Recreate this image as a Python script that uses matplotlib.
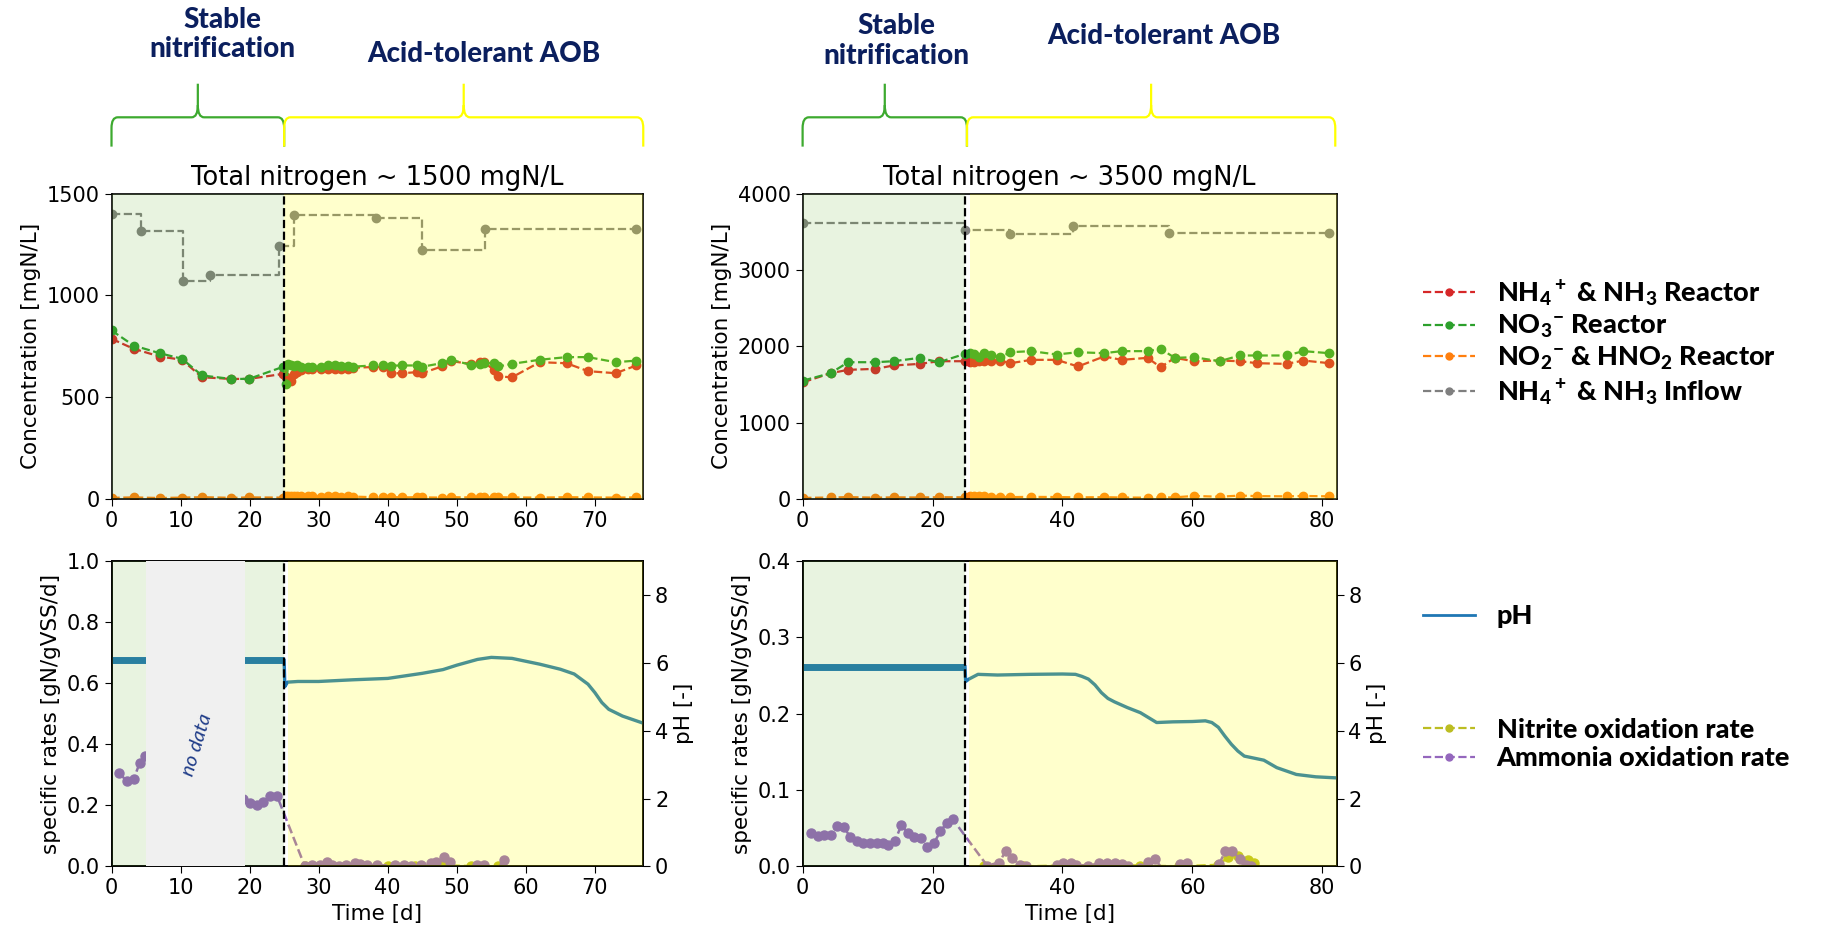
import numpy as np
import matplotlib
matplotlib.use("Agg")
import matplotlib.pyplot as plt
from matplotlib.path import Path
from matplotlib.patches import PathPatch
from matplotlib.lines import Line2D
from matplotlib.transforms import blended_transform_factory

plt.rcParams['font.family'] = ['DejaVu Sans']
plt.rcParams['mathtext.fontset'] = 'custom'
plt.rcParams['mathtext.rm'] = 'Lato:black'
plt.rcParams['mathtext.default'] = 'rm'

# ---------------- data: 1500 mgN/L reactor ----------------
tL = [0, 3.2, 7.0, 10.2, 13.1, 17.3, 19.9, 24.9, 25.3, 25.6, 26.0, 26.4, 26.9, 27.5, 28.5, 29.1,
      30.4, 31.4, 32.3, 33.3, 34.3, 34.9, 37.8, 39.3, 40.4, 42.1, 44.2, 45.0, 47.8, 49.2, 52.0,
      53.3, 53.9, 55.4, 56.0, 58.0, 62.0, 65.9, 69.0, 73.0, 76.0]
nh4L = [787, 738, 700, 684, 598, 590, 590, 615, 600, 590, 582, 615, 625, 635, 639, 640,
        639, 640, 638, 640, 640, 645, 648, 650, 618, 618, 623, 618, 651, 677, 664,
        672, 672, 634, 602, 598, 672, 667, 628, 618, 656]
no3L = [828, 754, 716, 689, 607, 590, 590, 650, 566, 664, 660, 655, 660, 650, 648, 648,
        650, 656, 656, 655, 652, 650, 656, 659, 655, 656, 656, 650, 667, 684, 659,
        664, 667, 667, 651, 664, 684, 697, 697, 672, 680]
no2L = [6, 8, 5, 7, 9, 6, 8, 7, 14, 15, 13, 16, 14, 15, 13, 14,
        12, 14, 13, 12, 13, 12, 9, 8, 10, 8, 9, 8, 7, 9, 8,
        10, 9, 8, 9, 8, 7, 9, 8, 7, 8]
inflow_tL = [0, 4.3, 10.4, 14.3, 24.2, 26.4, 38.3, 44.9, 54.1, 76.0]
inflowL = [1400, 1316, 1069, 1098, 1241, 1393, 1382, 1225, 1326, 1326]

ph_tL = [0, 25.0, 25.1, 25.5, 27, 30, 35, 40, 45, 48, 50, 53, 55, 58, 62, 65, 67, 69, 70, 71,
         72, 74, 76, 77]
phL = [6.07, 6.07, 5.3, 5.43, 5.45, 5.45, 5.5, 5.54, 5.69, 5.8, 5.93, 6.1, 6.16, 6.13, 5.96,
       5.81, 5.67, 5.37, 5.12, 4.83, 4.63, 4.43, 4.29, 4.22]
aor_tL = [1.1, 2.3, 3.2, 4.1, 4.8, 6.0, 19.0, 20.0, 21.1, 22.0, 23.0, 24.0, 28.0, 29.1, 30.2,
          31.2, 32.0, 33.0, 34.0, 35.2, 36.0, 37.0, 38.5, 41.0, 42.3, 43.3, 44.8, 46.2, 47.0,
          48.1, 49.0, 50.5, 52.9, 53.9, 55.5, 56.9]
aorL = [0.305, 0.278, 0.285, 0.34, 0.36, 0.38, 0.22, 0.209, 0.200, 0.212, 0.229, 0.229, 0.0,
        0.005, 0.006, 0.013, 0.005, 0.0, 0.003, 0.011, 0.008, 0.006, 0.003, 0.005, 0.005, 0.0,
        0.005, 0.011, 0.015, 0.030, 0.016, -0.02, 0.005, 0.004, -0.02, 0.022]
nor_tL = [28.0, 32.0, 36.0, 40.0, 44.0, 48.0, 52.0, 56.0]
norL = [0.0, 0.002, 0.001, 0.0, 0.002, 0.003, 0.001, 0.0]

# ---------------- data: 3500 mgN/L reactor ----------------
tR = [0.1, 4.3, 7.0, 11.2, 14.0, 18.0, 21.0, 25.0, 25.7, 26.4, 27.2, 28.0, 29.0, 30.4, 32.0,
      35.2, 39.1, 42.4, 46.4, 49.1, 53.1, 55.1, 57.3, 60.2, 64.2, 67.3, 70.0, 74.5, 77.1, 81.1]
nh4R = [1530, 1648, 1692, 1705, 1749, 1770, 1805, 1805, 1792, 1792, 1814, 1805, 1814, 1810,
        1779, 1823, 1823, 1736, 1867, 1823, 1849, 1727, 1849, 1805, 1814, 1805, 1779, 1770,
        1814, 1779]
no3R = [1552, 1648, 1792, 1792, 1805, 1849, 1792, 1902, 1910, 1905, 1858, 1910, 1880, 1858,
        1923, 1937, 1893, 1923, 1910, 1937, 1937, 1967, 1849, 1858, 1805, 1880, 1880, 1880,
        1937, 1910]
no2R = [15, 20, 25, 18, 22, 20, 24, 22, 40, 38, 42, 35, 30, 28, 25, 28, 26, 22, 24, 20, 18,
        20, 22, 40, 30, 45, 38, 35, 40, 35]
inflow_tR = [0.1, 25.0, 32.0, 41.6, 56.4, 81.1]
inflowR = [3615, 3528, 3475, 3580, 3488, 3488]

ph_tR = [0, 25.0, 25.1, 25.6, 27, 30, 35, 40, 42, 43, 44, 45, 46, 47, 48, 50, 52, 54.5, 57, 60,
         62, 63, 64, 65, 66, 67, 68, 70, 71, 72, 73, 76, 79, 82]
phR = [5.88, 5.88, 5.45, 5.52, 5.66, 5.64, 5.66, 5.67, 5.66, 5.6, 5.52, 5.35, 5.12, 4.95, 4.85,
       4.68, 4.53, 4.24, 4.26, 4.27, 4.29, 4.24, 4.1, 3.84, 3.6, 3.4, 3.25, 3.17, 3.13, 3.02,
       2.91, 2.71, 2.64, 2.61]
aor_tR = [1.3, 2.3, 3.3, 4.3, 5.3, 6.3, 7.3, 8.3, 9.3, 10.3, 11.4, 12.4, 13.2, 14.2, 15.2, 16.2,
          17.2, 18.2, 19.1, 20.2, 21.2, 22.2, 23.1, 28.4, 30.2, 31.3, 32.2, 33.4, 34.4, 36.0,
          39.1, 40.1, 41.3, 42.1, 44.0, 45.7, 46.9, 48.1, 49.1, 50.1, 52.0, 53.1, 54.2, 56.0,
          58.1, 59.1, 62.0, 64.1, 65.1, 66.1, 67.3, 68.2, 69.1]
aorR = [0.0436, 0.040, 0.041, 0.041, 0.053, 0.052, 0.039, 0.033, 0.031, 0.030, 0.030, 0.031,
        0.028, 0.033, 0.054, 0.044, 0.039, 0.037, 0.026, 0.030, 0.046, 0.057, 0.062, 0.001,
        0.005, 0.020, 0.011, 0.002, 0.001, -0.01, 0.002, 0.005, 0.004, 0.002, 0.001, 0.004,
        0.005, 0.005, 0.003, 0.001, -0.002, 0.006, 0.010, -0.01, 0.003, 0.004, -0.01, 0.003,
        0.020, 0.020, 0.010, 0.002, 0.001]
nor_tR = [28.0, 34.0, 40.0, 46.0, 52.0, 58.0, 64.0, 65.5, 67.0, 68.5, 69.5]
norR = [0.0, 0.0, 0.001, 0.002, 0.001, 0.0, 0.002, 0.012, 0.014, 0.008, 0.004]

titles = ["Total nitrogen ~ 1500 mgN/L", "Total nitrogen ~ 3500 mgN/L"]
phase_labels = ["Stable\nnitrification", "Acid-tolerant AOB"]

C_NH4, C_NO3, C_NO2, C_IN = '#d62728', '#2ca02c', '#ff7f0e', '#7f7f7f'
C_PH, C_NOR, C_AOR = '#1f77b4', '#bcbd22', '#9467bd'
GREEN_BG, YELLOW_BG = '#66b032', '#ffff00'
NAVY = '#0b1f5e'
HEAD_FONT = 'Lato'

fig = plt.figure(figsize=(18.4, 9.31), dpi=100)
ax1 = fig.add_axes([0.0606, 0.464, 0.289, 0.328])
ax2 = fig.add_axes([0.4362, 0.464, 0.2902, 0.328])
ax3 = fig.add_axes([0.0606, 0.0694, 0.289, 0.328])
ax4 = fig.add_axes([0.4362, 0.0694, 0.2902, 0.328])

TICK_FS, LAB_FS, TITLE_FS = 15, 15.5, 18.5


def style(ax):
    ax.tick_params(labelsize=TICK_FS, length=5)
    for s in ax.spines.values():
        s.set_linewidth(1.2)


def spans(ax, xmax, ymax_zorder=3, yellow_start=25.0):
    ax.axvspan(0, 25, color=GREEN_BG, alpha=0.15, lw=0, zorder=ymax_zorder)
    ax.axvspan(yellow_start, xmax, color=YELLOW_BG, alpha=0.2, lw=0, zorder=ymax_zorder)
    ax.axvline(25, color='black', ls='--', lw=1.6, zorder=ymax_zorder + 1)


def brace(ax, x0, x1, color, r):
    tr = blended_transform_factory(ax.transData, ax.transAxes)
    ye, ya, yt = 1.154, 1.25, 1.36
    xm = 0.5 * (x0 + x1)
    verts = [(x0, ye), (x0, ya - 0.035), (x0, ya), (x0 + r, ya), (xm - r, ya), (xm, ya),
             (xm, ya + 0.04), (xm, yt), (xm, ya + 0.04), (xm, ya), (xm + r, ya),
             (x1 - r, ya), (x1, ya), (x1, ya - 0.035), (x1, ye)]
    codes = [Path.MOVETO, Path.LINETO, Path.CURVE3, Path.CURVE3, Path.LINETO, Path.CURVE3,
             Path.CURVE3, Path.LINETO, Path.MOVETO, Path.CURVE3, Path.CURVE3, Path.LINETO,
             Path.CURVE3, Path.CURVE3, Path.LINETO]
    p = PathPatch(Path(verts, codes), fc='none', ec=color, lw=1.6, transform=tr, clip_on=False)
    ax.add_patch(p)


# ---------- top panels ----------
for ax, t, nh4, no3, no2, it, inf, xmax, ymax, title in [
        (ax1, tL, nh4L, no3L, no2L, inflow_tL, inflowL, 77, 1500, titles[0]),
        (ax2, tR, nh4R, no3R, no2R, inflow_tR, inflowR, 82.2, 4000, titles[1])]:
    kw = dict(ls='--', marker='o', ms=6, lw=1.6, zorder=2)
    ax.plot(it, inf, color=C_IN, drawstyle='steps-post', **kw)
    ax.plot(t, no2, color=C_NO2, **kw)
    ax.plot(t, nh4, color=C_NH4, **kw)
    ax.plot(t, no3, color=C_NO3, **kw)
    spans(ax, xmax, yellow_start=25.0 if ax is ax1 else 25.8)
    ax.set_xlim(0, xmax)
    ax.set_ylim(0, ymax)
    ax.set_title(title, fontsize=TITLE_FS, pad=6)
    ax.set_ylabel("Concentration [mgN/L]", fontsize=LAB_FS)
    style(ax)

ax1.set_xticks(range(0, 71, 10))
ax1.set_yticks([0, 500, 1000, 1500])
ax2.set_xticks(range(0, 81, 20))
ax2.set_yticks(range(0, 4001, 1000))

# braces and phase labels
brace(ax1, 0, 25, '#3daa2f', 0.9)
brace(ax1, 25, 77, '#ffff00', 0.9)
brace(ax2, 0, 25.3, '#3daa2f', 0.95)
brace(ax2, 25.3, 82, '#ffff00', 0.95)
hk = dict(fontsize=20, fontweight='black', color=NAVY, family=HEAD_FONT, ha='center',
          va='center', linespacing=1.15)
ax1.text(16.1, 1.52, phase_labels[0], transform=blended_transform_factory(ax1.transData, ax1.transAxes), **hk)
ax1.text(53.9, 1.458, phase_labels[1], transform=blended_transform_factory(ax1.transData, ax1.transAxes), **hk)
ax2.text(14.5, 1.5, phase_labels[0], transform=blended_transform_factory(ax2.transData, ax2.transAxes), **hk)
ax2.text(55.6, 1.515, phase_labels[1], transform=blended_transform_factory(ax2.transData, ax2.transAxes), **hk)

# ---------- bottom panels ----------
for ax, pt, ph, at, aor, nt, nor, xmax, rmax in [
        (ax3, ph_tL, phL, aor_tL, aorL, nor_tL, norL, 77, 1.0),
        (ax4, ph_tR, phR, aor_tR, aorR, nor_tR, norR, 82.2, 0.4)]:
    kw = dict(ls='--', marker='o', ms=6.5, lw=1.8, zorder=2)
    ax.plot(nt, nor, color=C_NOR, **kw)
    ax.plot(at, aor, color=C_AOR, **kw)
    ax.set_xlim(0, xmax)
    ax.set_ylim(0, rmax)
    ax.set_ylabel("specific rates [gN/gVSS/d]", fontsize=LAB_FS)
    ax.set_xlabel("Time [d]", fontsize=LAB_FS)
    style(ax)
    tw = ax.twinx()
    tw.plot(pt[:2], ph[:2], color=C_PH, lw=5, zorder=2, solid_capstyle='butt')
    tw.plot(pt[1:], ph[1:], color=C_PH, lw=2.4, zorder=2)
    tw.set_ylim(0, 9)
    tw.set_yticks([0, 2, 4, 6, 8])
    tw.set_ylabel("pH [-]", fontsize=LAB_FS)
    tw.set_xlim(0, xmax)
    style(tw)
    spans(tw, xmax, yellow_start=25.6)
    if ax is ax3:
        tw.axvspan(5.0, 19.4, color='#f0f0f0', lw=0, zorder=6)
        tw.text(12.4, 3.6, "no data", rotation=73, fontsize=14.5, style='italic',
                color='#1f3c88', family=HEAD_FONT, ha='center', va='center', zorder=7)

ax3.set_xticks(range(0, 71, 10))
ax3.set_yticks([0.0, 0.2, 0.4, 0.6, 0.8, 1.0])
ax4.set_xticks(range(0, 81, 20))
ax4.set_yticks([0.0, 0.1, 0.2, 0.3, 0.4])

# ---------- legends ----------
lp = dict(family=HEAD_FONT, weight='black', size=19.5)
lkw = dict(ls='--', marker='o', ms=5, lw=1.6)
h1 = [Line2D([], [], color=C_NH4, **lkw), Line2D([], [], color=C_NO3, **lkw),
      Line2D([], [], color=C_NO2, **lkw), Line2D([], [], color=C_IN, **lkw)]
l1 = [r'NH$_4$$^+$ & NH$_3$ Reactor', r'NO$_3$$^{-}$ Reactor', r'NO$_2$$^{-}$ & HNO$_2$ Reactor',
      r'NH$_4$$^+$ & NH$_3$ Inflow']
common = dict(frameon=False, loc='center left', borderpad=0, borderaxespad=0,
              handlelength=1.9, handletextpad=0.8, prop=lp)
fig.legend(h1, l1, bbox_to_anchor=(0.7736, 0.632), labelspacing=0.17, **common)
fig.legend([Line2D([], [], color=C_PH, lw=2)], ['pH'], bbox_to_anchor=(0.7736, 0.338), **common)
fig.legend([Line2D([], [], color=C_NOR, **lkw), Line2D([], [], color=C_AOR, **lkw)],
           ['Nitrite oxidation rate', 'Ammonia oxidation rate'],
           bbox_to_anchor=(0.7736, 0.201), labelspacing=0.17, **common)

fig.savefig("out.png", dpi=100)
